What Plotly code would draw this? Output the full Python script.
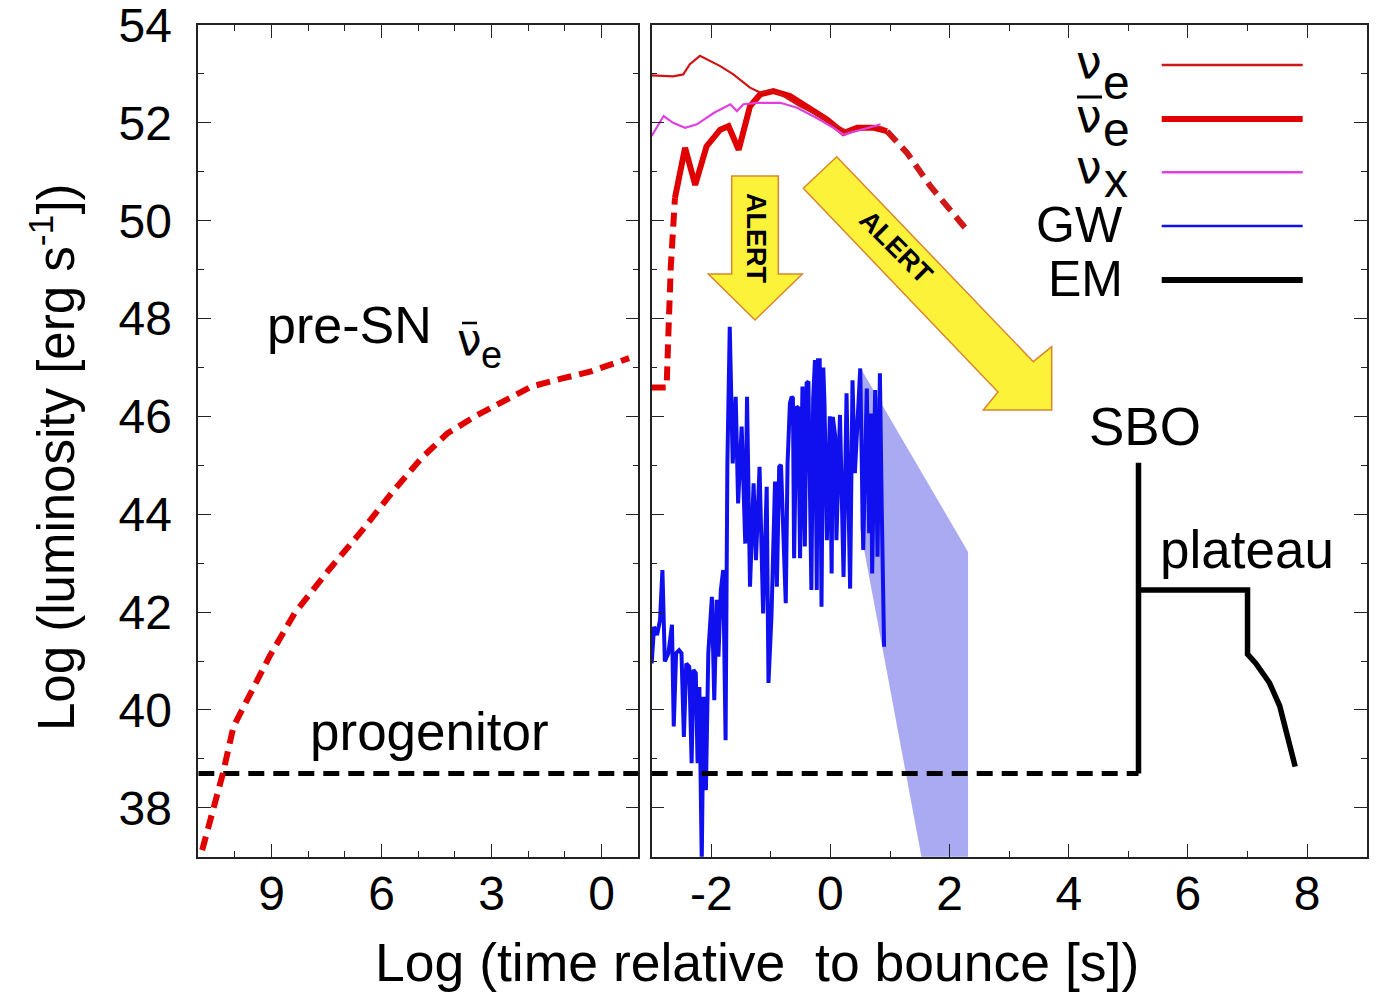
import plotly.graph_objects as go

W, H = 1376, 997

# ---------------- data ----------------
# left panel: log time before bounce (reversed axis)
presn_x = [11.05, 10.93, 10.67, 10.33, 10.04, 9.63, 9.06, 8.37, 7.44, 6.52, 5.71, 4.91, 4.21, 3.41, 2.60, 1.91, 1.10, 0.29, -0.75]
presn_y = [36.7, 37.03, 37.82, 38.70, 39.66, 40.27, 41.09, 41.98, 42.86, 43.68, 44.45, 45.15, 45.65, 46.02, 46.33, 46.61, 46.77, 46.92, 47.19]

progenitor_L = 38.7
prog_left_x = [11, -1]
prog_right_x = [-3, 5.17]

# right panel: log time after bounce
nue_x = [-3.0, -2.64, -2.47, -2.36, -2.19, -2.02, -1.85, -1.63, -1.52, -1.35, -1.18, -1.01, -0.79, -0.51, -0.23, 0.05, 0.28, 0.5, 0.73, 0.89]
nue_y = [52.97, 52.95, 52.99, 53.20, 53.37, 53.27, 53.16, 52.99, 52.89, 52.72, 52.62, 52.67, 52.55, 52.34, 52.17, 51.97, 51.83, 51.86, 51.93, 51.90]

anue_rise_x = [-3.0, -2.75, -2.72, -2.68, -2.61]
anue_rise_y = [46.59, 46.59, 47.68, 49.05, 50.46]
anue_x = [-2.61, -2.44, -2.27, -2.08, -1.85, -1.71, -1.54, -1.35, -1.18, -0.96, -0.68, -0.39, -0.06, 0.22, 0.45, 0.73, 0.95]
anue_y = [50.46, 51.49, 50.73, 51.52, 51.86, 51.93, 51.45, 52.34, 52.58, 52.65, 52.55, 52.34, 52.07, 51.79, 51.90, 51.90, 51.83]
anue_decay_x = [0.95, 1.29, 1.68, 2.29]
anue_decay_y = [51.83, 51.38, 50.70, 49.81]

nux_x = [-3.0, -2.8, -2.64, -2.44, -2.24, -1.96, -1.68, -1.57, -1.46, -1.24, -0.84, -0.56, -0.23, 0.05, 0.22, 0.45, 0.73, 0.84]
nux_y = [51.73, 52.14, 52.0, 51.9, 51.97, 52.2, 52.38, 52.24, 52.38, 52.41, 52.41, 52.31, 52.1, 51.9, 51.76, 51.83, 51.93, 51.97]

gw_x = [-3.00, -2.96, -2.91, -2.86, -2.82, -2.79, -2.78, -2.72, -2.66, -2.63, -2.59, -2.54, -2.50, -2.46,
        -2.42, -2.37, -2.33, -2.30, -2.26, -2.23, -2.20, -2.16, -2.13, -2.09, -2.05, -1.99, -1.95, -1.91,
        -1.88, -1.84, -1.80, -1.76, -1.73, -1.69, -1.64, -1.59, -1.55, -1.49, -1.43, -1.40, -1.35, -1.29,
        -1.25, -1.19, -1.13, -1.07, -1.04, -0.99, -0.93, -0.90, -0.86, -0.83, -0.75, -0.72, -0.68, -0.65,
        -0.63, -0.61, -0.57, -0.54, -0.51, -0.47, -0.43, -0.40, -0.37, -0.32, -0.29, -0.26, -0.23, -0.21,
        -0.18, -0.15, -0.12, -0.10, -0.06, -0.01, 0.02, 0.04,
        0.08, 0.10, 0.16, 0.22, 0.27, 0.33, 0.37, 0.41, 0.50, 0.55, 0.61, 0.65, 0.68, 0.70, 0.75, 0.79,
        0.83, 0.86, 0.90]
gw_y = [40.95, 41.70, 41.53, 41.84, 42.86, 41.70, 40.99, 41.16, 41.74, 39.66, 41.16, 41.22, 41.16, 39.45,
        40.95, 40.88, 38.91, 40.82, 40.75, 38.91, 40.47, 36.90, 40.27, 38.36, 41.16, 42.31, 40.20, 42.25,
        41.09, 42.45, 42.86, 39.38, 45.04, 47.83, 45.04, 46.40, 44.22, 45.79, 43.40, 46.40, 42.52, 44.63,
        43.06, 44.97, 41.97, 44.56, 40.55, 41.91, 44.67, 42.52, 44.97, 45.01, 42.18, 45.04, 46.27, 46.40,
        46.37, 43.10, 46.20, 46.17, 43.10, 46.61, 43.34, 46.68, 46.71, 42.45, 46.37, 47.15, 42.45, 47.15,
        47.15, 42.11, 47.00, 46.27, 43.47, 46.00, 42.79, 45.99,
        45.59, 43.47, 46.03, 42.72, 46.47, 42.48, 46.74, 44.84, 46.98, 43.27, 46.57, 43.61, 46.06, 42.79,
        46.54, 43.13, 46.88, 44.20, 41.29]

band_x = [0.5, 2.31, 2.31, 1.68, 0.5]
band_y = [47.0, 43.23, 36.0, 36.0, 43.7]

em_x = [5.17, 5.17, 5.17, 7.0, 7.0, 7.14, 7.37, 7.54, 7.71, 7.8]
em_y = [38.7, 45.05, 42.45, 42.45, 41.14, 40.95, 40.55, 40.08, 39.3, 38.84]

y_ticks = [38, 40, 42, 44, 46, 48, 50, 52, 54]
xl_ticks = [9, 6, 3, 0]
xr_ticks = [-2, 0, 2, 4, 6, 8]
xr_ticktext = ["-2", "0", "2", "4", "6", "8"]

legend_main = ["ν", "ν", "ν", "GW", "EM"]
legend_sub = ["e", "e", "x", "", ""]
legend_bar = [False, True, False, False, False]
legend_colors = ["#d01515", "#e00000", "#e040e0", "#1010ee", "#000000"]
legend_widths = [2.5, 6, 2.5, 2.5, 6]

# ---------------- styling helpers ----------------
FONT = "Liberation Sans, Arial, sans-serif"
GREEK = "DejaVu Sans, Liberation Sans, sans-serif"
RED = "#e00000"


def px(x):
    return x / W


def py(y):
    return 1 - y / H


XL = (198.3, 638.3)
XR = (651.7, 1366.7)
YT, YB = 25.0, 856.7

fig = go.Figure()

# blue band (GW extrapolation)
fig.add_trace(go.Scatter(x=band_x, y=band_y, xaxis="x2", yaxis="y2", mode="lines", fill="toself",
                         fillcolor="rgb(170,170,242)", line=dict(width=0), hoverinfo="skip"))
# GW
fig.add_trace(go.Scatter(x=gw_x, y=gw_y, xaxis="x2", yaxis="y2", mode="lines",
                         line=dict(color="#1010ee", width=4)))
# progenitor
fig.add_trace(go.Scatter(x=prog_left_x, y=[progenitor_L] * 2, xaxis="x", yaxis="y", mode="lines",
                         line=dict(color="black", width=5, dash="16px,9px")))
fig.add_trace(go.Scatter(x=prog_right_x, y=[progenitor_L] * 2, xaxis="x2", yaxis="y2", mode="lines",
                         line=dict(color="black", width=5, dash="16px,9px")))
# EM
fig.add_trace(go.Scatter(x=em_x, y=em_y, xaxis="x2", yaxis="y2", mode="lines",
                         line=dict(color="black", width=5.5)))
# pre-SN anti-nu_e
fig.add_trace(go.Scatter(x=presn_x, y=presn_y, xaxis="x", yaxis="y", mode="lines",
                         line=dict(color=RED, width=6, dash="14px,8px")))
# anti nu_e
fig.add_trace(go.Scatter(x=anue_rise_x, y=anue_rise_y, xaxis="x2", yaxis="y2", mode="lines",
                         line=dict(color=RED, width=6, dash="14px,8px")))
fig.add_trace(go.Scatter(x=anue_decay_x, y=anue_decay_y, xaxis="x2", yaxis="y2", mode="lines",
                         line=dict(color="#d01818", width=6, dash="14px,8px")))
fig.add_trace(go.Scatter(x=anue_x, y=anue_y, xaxis="x2", yaxis="y2", mode="lines",
                         line=dict(color=RED, width=6)))
# nu_e
fig.add_trace(go.Scatter(x=nue_x, y=nue_y, xaxis="x2", yaxis="y2", mode="lines",
                         line=dict(color="#d01515", width=2.2)))
# nu_x
fig.add_trace(go.Scatter(x=nux_x, y=nux_y, xaxis="x2", yaxis="y2", mode="lines",
                         line=dict(color="#e040e0", width=2.2)))

axis_common = dict(showline=True, linecolor="#222", linewidth=1.5, mirror="ticks", ticks="inside",
                   ticklen=13, tickwidth=1.3, tickcolor="#222", showgrid=False, zeroline=False,
                   ticklabeloverflow="allow", automargin=False,
                   tickfont=dict(family=FONT, size=48, color="black"))
minor_common = dict(ticks="inside", ticklen=6, tickwidth=1.3, tickcolor="#222", dtick=1, showgrid=False)

fig.update_layout(
    width=W, height=H, margin=dict(l=0, r=0, t=0, b=0, autoexpand=False),
    paper_bgcolor="white", plot_bgcolor="white", showlegend=False,
    xaxis=dict(domain=[px(XL[0]), px(XL[1])], range=[11, -1], anchor="y",
               tickmode="array", tickvals=xl_ticks, ticklabelstandoff=-6,
               minor=dict(minor_common, tick0=0), **axis_common),
    yaxis=dict(domain=[py(YB), py(YT)], range=[37, 54], anchor="x",
               tickmode="array", tickvals=y_ticks, ticklabelstandoff=15,
               minor=dict(minor_common, tick0=0), **axis_common),
    xaxis2=dict(domain=[px(XR[0]), px(XR[1])], range=[-3, 9], anchor="y2",
                tickmode="array", tickvals=xr_ticks, ticktext=xr_ticktext, ticklabelstandoff=-6,
                minor=dict(minor_common, tick0=0), **axis_common),
    yaxis2=dict(domain=[py(YB), py(YT)], range=[37, 54], anchor="x2",
                tickmode="array", tickvals=y_ticks, showticklabels=False,
                minor=dict(minor_common, tick0=0), **axis_common),
)


def path(points):
    return "M " + " L ".join(f"{px(a):.5f},{py(b):.5f}" for a, b in points) + " Z"


arrow1 = [(731.7, 176), (778.3, 176), (778.3, 274), (802.3, 274), (755, 320), (708.3, 274), (731.7, 274)]
arrow2 = [(836.7, 156.7), (1033.3, 361.7), (1051.7, 346.7), (1051.7, 410), (983.3, 410), (998, 392), (803.3, 188.3)]
for arr in (arrow1, arrow2):
    fig.add_shape(type="path", path=path(arr), xref="paper", yref="paper",
                  fillcolor="#fcf23a", line=dict(color="#d9862f", width=1.5), layer="above")


def hline(x0, x1, y, color="black", width=2.5):
    fig.add_shape(type="line", xref="paper", yref="paper", x0=px(x0), x1=px(x1),
                  y0=py(y), y1=py(y), line=dict(color=color, width=width))


ann = []


def text(x, y, s, size, family=FONT, xanchor="center", angle=0):
    ann.append(dict(x=px(x), y=py(y), text=s, xanchor=xanchor, textangle=angle,
                    font=dict(family=family, size=size, color="black")))


text(756, 238, "<b>ALERT</b>", 27, angle=90)
text(896, 247, "<b>ALERT</b>", 27, angle=45)

# pre-SN anti-nu_e label
text(265, 325, "pre-SN", 52, xanchor="left")
text(469, 340, "ν", 44, family=GREEK)
text(491, 355, "e", 38)
hline(462, 477, 323, width=2.5)

text(429, 731, "progenitor", 53)
text(1145, 427, "SBO", 53)
text(1247, 549, "plateau", 53)
text(757, 962, "Log (time relative\u00a0 to bounce [s])", 53.5)
text(53, 457, "Log (luminosity [erg s<sup>-1</sup>])", 51, angle=-90)

# legend
leg_y = [65, 119, 172.3, 226, 280]
nu_c = [62, 116, 167]
sub_c = [83, 130, 180]
for i, (m, s, bar, col, lw, yy) in enumerate(zip(legend_main, legend_sub, legend_bar,
                                                  legend_colors, legend_widths, leg_y)):
    if s:
        text(1089, nu_c[i], m, 46, family=GREEK)
        text(1116, sub_c[i], s, 48)
        if bar:
            hline(1077, 1102, 97, width=3)
    else:
        text(1125, yy - 1, m, 50, xanchor="right")
    hline(1161.7, 1302.7, yy, color=col, width=lw)

for a in ann:
    a.update(xref="paper", yref="paper", showarrow=False, yanchor="middle")
fig.update_layout(annotations=ann)

fig.write_html("out.html", config={"displayModeBar": False},
               post_script="document.body.style.margin='0px';document.body.style.overflow='hidden';")
